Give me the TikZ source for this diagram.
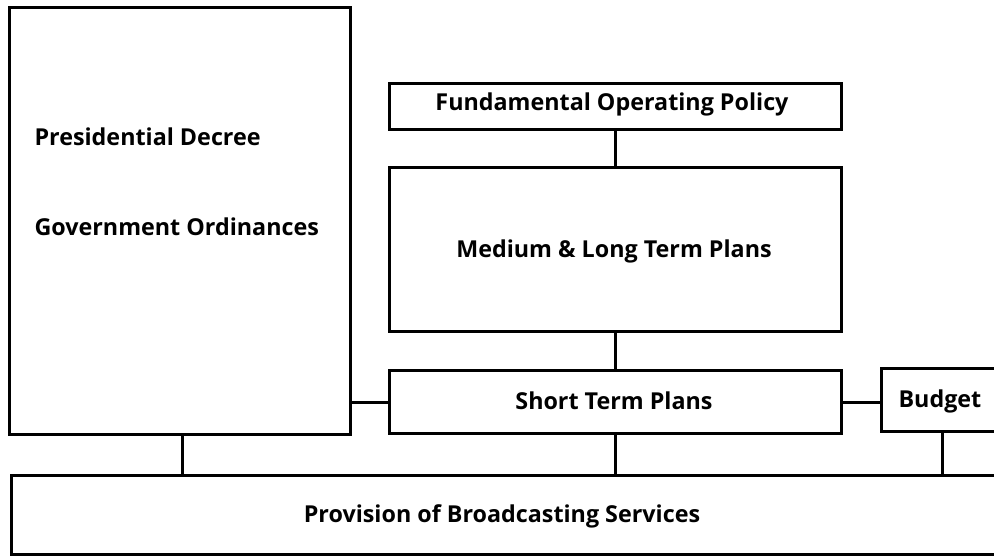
\documentclass[tikz,border=0pt]{standalone}
\usepackage{fontspec}
\setmainfont{Open Sans}
\begin{document}
\begin{tikzpicture}[x=1pt,y=-1pt,
  box/.style={draw,line width=3pt,inner sep=0pt},
  link/.style={line width=3pt},
  lbl/.style={font=\bfseries\fontsize{23.3}{27}\selectfont}]
\clip (0,0) rectangle (994,555);
\fill[white] (0,0) rectangle (994,555);
% boxes
\node[box,minimum width=341pt,minimum height=427pt,anchor=north west] (law) at (8,6) {};
\node[box,minimum width=452pt,minimum height=46pt,anchor=north west] (fop) at (388,82) {};
\node[box,minimum width=452pt,minimum height=164pt,anchor=north west] (mlt) at (388,166) {};
\node[box,minimum width=452pt,minimum height=63pt,anchor=north west] (stp) at (388,369) {};
\node[box,minimum width=140pt,minimum height=63pt,anchor=north west] (bud) at (880,367) {};
\node[box,minimum width=1000pt,minimum height=79pt,anchor=north west] (pbs) at (10,474) {};
% texts
\node[lbl,anchor=west] (t1) at (31,137) {Presidential Decree};
\node[lbl,anchor=west] (t2) at (31,227) {Government Ordinances};
\node[lbl] (t3) at (612,104) {Fundamental Operating Policy};
\node[lbl] (t4) at (614,251) {Medium \& Long Term Plans};
\node[lbl] (t5) at (614,401) {Short Term Plans};
\node[lbl,anchor=west] (t6) at (895,401) {Budget};
\node[lbl] (t7) at (502,516) {Provision of Broadcasting Services};
% connectors
\draw[link] (fop.south) -- (mlt.north);
\draw[link] (mlt.south) -- (stp.north);
\draw[link] (law.east |- stp.west) -- (stp.west);
\draw[link] (stp.east) -- (bud.west |- stp.east);
\draw[link] (law.south west) ++(174,0) coordinate (lb) -- (lb |- pbs.north);
\draw[link] (stp.south) -- (stp.south |- pbs.north);
\coordinate (bb) at (942,430);
\draw[link] (bb) -- (bb |- pbs.north);
\end{tikzpicture}
\end{document}
